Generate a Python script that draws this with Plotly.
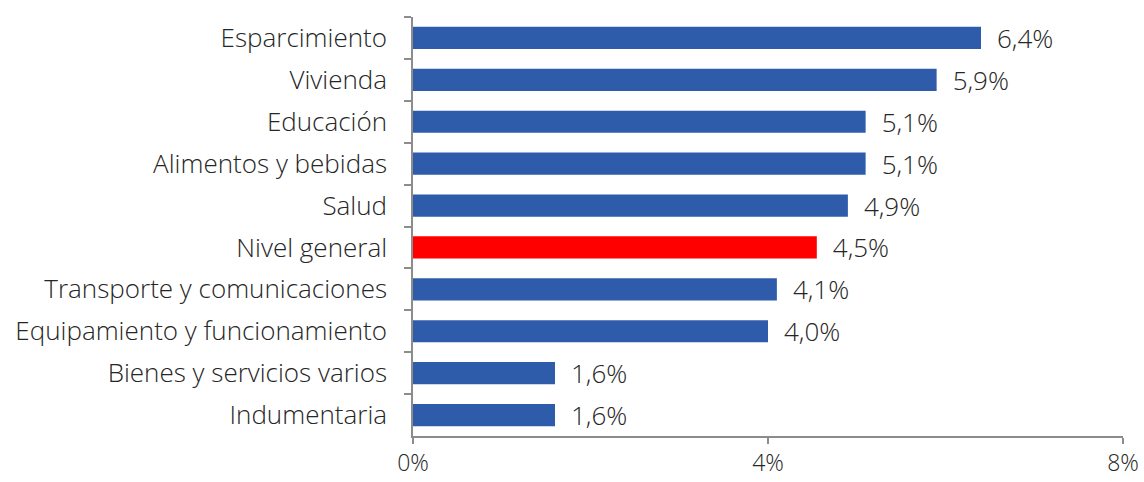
import plotly.graph_objects as go

categories = ["Esparcimiento", "Vivienda", "Educación", "Alimentos y bebidas", "Salud",
              "Nivel general", "Transporte y comunicaciones", "Equipamiento y funcionamiento",
              "Bienes y servicios varios", "Indumentaria"]
values = [6.4, 5.9, 5.1, 5.1, 4.9, 4.55, 4.1, 4.0, 1.6, 1.6]
labels = ["6,4%", "5,9%", "5,1%", "5,1%", "4,9%", "4,5%", "4,1%", "4,0%", "1,6%", "1,6%"]
x_ticks = [0, 4, 8]
x_tick_labels = ["0%", "4%", "8%"]

BLUE = "#2E5BAA"
RED = "#FF0000"
colors = [RED if c == "Nivel general" else BLUE for c in categories]

FONT = dict(family="Open Sans, Noto Sans, sans-serif", size=26, color="#262626", weight=300)
XFONT = dict(FONT, size=23)

fig = go.Figure(go.Bar(
    y=categories, x=values, orientation="h",
    marker=dict(color=colors, line=dict(width=0)),
    text=["\u2002" + t for t in labels], textposition="outside",
    textfont=FONT, outsidetextfont=FONT, constraintext="none", cliponaxis=False,
))

fig.update_layout(
    width=1144, height=482,
    margin=dict(l=413, r=21, t=17, b=46, autoexpand=False),
    plot_bgcolor="white", paper_bgcolor="white",
    font=FONT, bargap=0.47, showlegend=False,
)
fig.update_xaxes(range=[0, 8], tickvals=x_ticks, ticktext=x_tick_labels,
                 showline=True, linecolor="#8C8C8C", linewidth=1.5,
                 ticks="outside", ticklen=6, tickcolor="#8C8C8C", tickwidth=1.5,
                 showgrid=False, zeroline=False, tickfont=XFONT, automargin=False,
                 ticklabelstandoff=0)
fig.update_yaxes(categoryorder="array", categoryarray=categories, autorange="reversed",
                 showline=True, linecolor="#8C8C8C", linewidth=1.5,
                 ticks="outside", ticklen=7, tickcolor="#8C8C8C", tickwidth=1.5,
                 tickson="boundaries", showgrid=False, tickfont=FONT, ticklabelstandoff=19,
                 automargin=False)

fig.write_html("out.html", config={"displayModeBar": False},
               post_script="document.body.style.margin='0';document.body.style.overflow='hidden';")
